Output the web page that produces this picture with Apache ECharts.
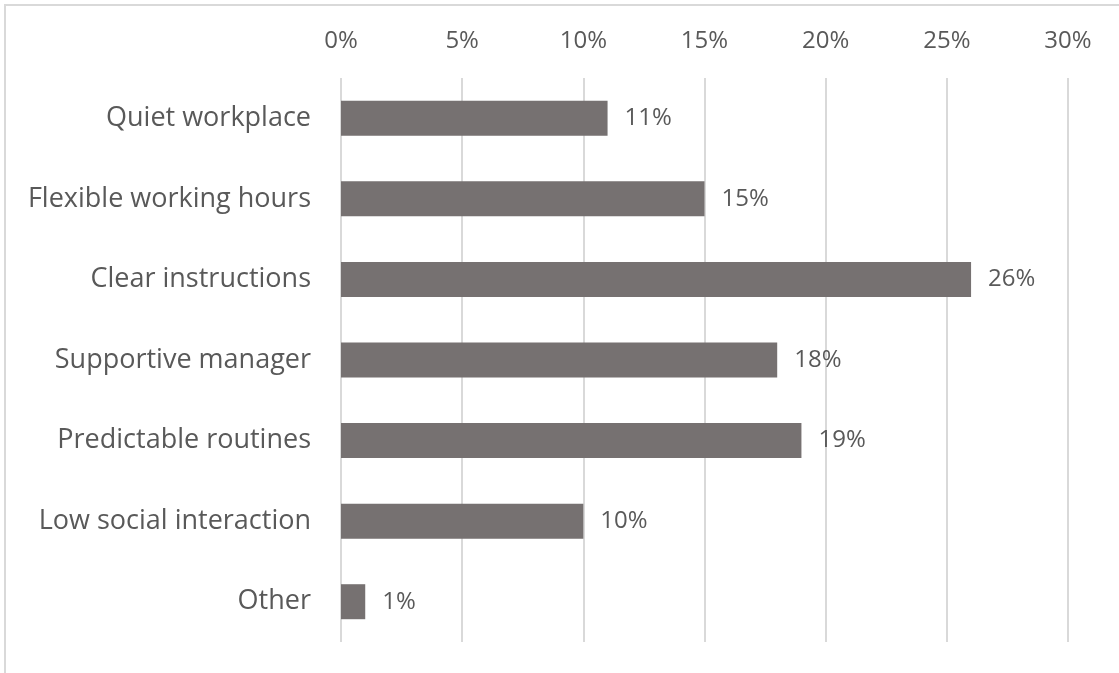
<!DOCTYPE html>
<html>
<head>
<meta charset="utf-8">
<script src="https://cdn.jsdelivr.net/npm/echarts@6/dist/echarts.min.js"></script>
<style>
  html, body { margin: 0; padding: 0; background: #ffffff; }
  #chart { width: 1119px; height: 673px; }
</style>
</head>
<body>
<div id="chart"></div>
<script>
// Workplace adjustments: share of respondents (%)
const categories = [
  'Quiet workplace',
  'Flexible working hours',
  'Clear instructions',
  'Supportive manager',
  'Predictable routines',
  'Low social interaction',
  'Other'
];
const shares = [11, 15, 26, 18, 19, 10, 1];
const axisMin = 0;
const axisMax = 30;
const axisStep = 5;

const textColor = '#595959';
const fontFamily = 'Open Sans, Lato, sans-serif';

const chart = echarts.init(document.getElementById('chart'), null, { renderer: 'canvas' });

chart.setOption({
  animation: false,
  backgroundColor: '#ffffff',
  graphic: [{
    type: 'rect',
    shape: { x: 5, y: 5, width: 1200, height: 800 },
    style: { fill: 'none', stroke: '#d9d9d9', lineWidth: 2 },
    silent: true
  }],
  grid: { left: 341, right: 51, top: 78, bottom: 31, containLabel: false },
  xAxis: {
    type: 'value',
    position: 'top',
    min: axisMin,
    max: axisMax,
    interval: axisStep,
    axisLine: { show: false },
    axisTick: { show: false },
    axisLabel: {
      formatter: v => v + '%',
      color: textColor,
      fontFamily: fontFamily,
      fontSize: 24,
      margin: 25
    },
    splitLine: { show: true, lineStyle: { color: '#d9d9d9', width: 2 } }
  },
  yAxis: {
    type: 'category',
    data: categories,
    inverse: true,
    axisLine: { show: false },
    axisTick: { show: false },
    axisLabel: {
      color: textColor,
      fontFamily: fontFamily,
      fontSize: 27,
      margin: 30
    }
  },
  series: [{
    type: 'bar',
    data: shares,
    barWidth: 35,
    itemStyle: { color: '#767171' },
    label: {
      show: true,
      position: 'right',
      distance: 17,
      formatter: p => p.value + '%',
      color: textColor,
      fontFamily: fontFamily,
      fontSize: 24
    }
  }]
});
</script>
</body>
</html>
